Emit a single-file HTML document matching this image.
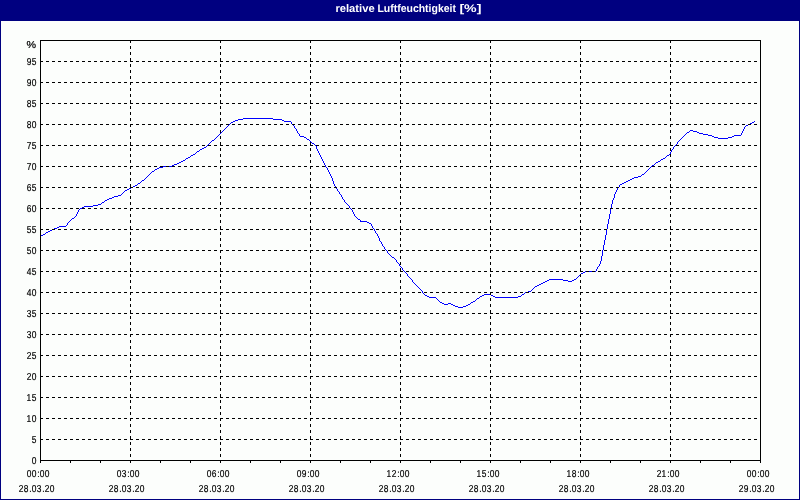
<!DOCTYPE html>
<html><head><meta charset="utf-8"><title>relative Luftfeuchtigkeit</title>
<style>
html,body{margin:0;padding:0;background:#000080;}
#c{position:relative;width:800px;height:500px;overflow:hidden;background:#000080;}
#plot{position:absolute;left:1px;top:21px;width:798px;height:478px;background:#fcfefc;}
svg{position:absolute;left:0;top:0;}
text{text-rendering:geometricPrecision;font-family:"Liberation Sans",Arial,sans-serif;font-size:10px;fill:#000;stroke:#000;stroke-width:0.2px;}
text.t{font-weight:bold;font-size:11px;fill:#fff;stroke:#fff;stroke-width:0px;}
</style></head><body><div id="c">
<div id="plot"></div>
<svg width="800" height="500" viewBox="0 0 800 500">
<text class="t" y="12"><tspan x="335.4" textLength="39.3" lengthAdjust="spacingAndGlyphs">relative</tspan> <tspan x="377.4" textLength="78.6" lengthAdjust="spacingAndGlyphs">Luftfeuchtigkeit</tspan> <tspan x="459.4" textLength="22" lengthAdjust="spacingAndGlyphs">[%]</tspan></text>
<path d="M243 118h30v1h-30zM238 119h5v1h-5zM273 119h9v1h-9zM235 120h3v1h-3zM282 120h2v1h-2zM233 121h2v1h-2zM284 121h7v1h-7zM754 121h1v1h-1zM231 122h2v1h-2zM291 122h1v1h-1zM752 122h2v1h-2zM230 123h1v1h-1zM291 123h1v1h-1zM750 123h2v1h-2zM229 124h1v1h-1zM292 124h1v1h-1zM748 124h2v1h-2zM228 125h1v1h-1zM293 125h1v1h-1zM746 125h2v1h-2zM227 126h1v1h-1zM294 126h1v1h-1zM745 126h1v1h-1zM226 127h1v1h-1zM294 127h1v1h-1zM744 127h1v1h-1zM225 128h1v1h-1zM295 128h1v1h-1zM744 128h1v1h-1zM224 129h1v1h-1zM296 129h1v1h-1zM743 129h1v1h-1zM223 130h1v1h-1zM296 130h1v1h-1zM690 130h3v1h-3zM743 130h1v1h-1zM222 131h1v1h-1zM297 131h1v1h-1zM689 131h1v1h-1zM693 131h4v1h-4zM742 131h1v1h-1zM221 132h1v1h-1zM297 132h1v1h-1zM687 132h2v1h-2zM697 132h2v1h-2zM742 132h1v1h-1zM220 133h1v1h-1zM298 133h1v1h-1zM686 133h1v1h-1zM699 133h4v1h-4zM741 133h1v1h-1zM219 134h1v1h-1zM299 134h1v1h-1zM685 134h1v1h-1zM703 134h5v1h-5zM741 134h1v1h-1zM218 135h1v1h-1zM299 135h1v1h-1zM684 135h1v1h-1zM708 135h4v1h-4zM734 135h7v1h-7zM217 136h1v1h-1zM300 136h4v1h-4zM683 136h1v1h-1zM712 136h2v1h-2zM732 136h2v1h-2zM216 137h1v1h-1zM304 137h2v1h-2zM682 137h1v1h-1zM714 137h4v1h-4zM728 137h4v1h-4zM215 138h1v1h-1zM306 138h1v1h-1zM681 138h1v1h-1zM718 138h10v1h-10zM214 139h1v1h-1zM307 139h2v1h-2zM680 139h1v1h-1zM212 140h2v1h-2zM309 140h1v1h-1zM679 140h1v1h-1zM211 141h1v1h-1zM310 141h1v1h-1zM678 141h1v1h-1zM210 142h1v1h-1zM311 142h1v1h-1zM677 142h1v1h-1zM209 143h1v1h-1zM312 143h2v1h-2zM677 143h1v1h-1zM208 144h1v1h-1zM314 144h1v1h-1zM676 144h1v1h-1zM207 145h1v1h-1zM315 145h1v1h-1zM675 145h1v1h-1zM206 146h1v1h-1zM316 146h1v1h-1zM674 146h1v1h-1zM204 147h2v1h-2zM316 147h1v1h-1zM673 147h1v1h-1zM202 148h2v1h-2zM316 148h1v1h-1zM673 148h1v1h-1zM200 149h2v1h-2zM317 149h1v1h-1zM672 149h1v1h-1zM199 150h1v1h-1zM317 150h1v1h-1zM671 150h1v1h-1zM197 151h2v1h-2zM318 151h1v1h-1zM671 151h1v1h-1zM196 152h1v1h-1zM318 152h1v1h-1zM670 152h1v1h-1zM195 153h1v1h-1zM319 153h1v1h-1zM670 153h1v1h-1zM193 154h2v1h-2zM319 154h1v1h-1zM669 154h1v1h-1zM191 155h2v1h-2zM320 155h1v1h-1zM667 155h2v1h-2zM190 156h1v1h-1zM320 156h1v1h-1zM666 156h1v1h-1zM188 157h2v1h-2zM321 157h1v1h-1zM665 157h1v1h-1zM186 158h2v1h-2zM321 158h1v1h-1zM663 158h2v1h-2zM185 159h1v1h-1zM322 159h1v1h-1zM661 159h2v1h-2zM183 160h2v1h-2zM322 160h1v1h-1zM660 160h1v1h-1zM181 161h2v1h-2zM323 161h1v1h-1zM658 161h2v1h-2zM179 162h2v1h-2zM323 162h1v1h-1zM656 162h2v1h-2zM177 163h2v1h-2zM324 163h1v1h-1zM655 163h1v1h-1zM174 164h3v1h-3zM324 164h1v1h-1zM654 164h1v1h-1zM172 165h2v1h-2zM325 165h1v1h-1zM652 165h2v1h-2zM163 166h9v1h-9zM325 166h1v1h-1zM651 166h1v1h-1zM159 167h4v1h-4zM326 167h1v1h-1zM650 167h1v1h-1zM157 168h2v1h-2zM327 168h1v1h-1zM649 168h1v1h-1zM155 169h2v1h-2zM327 169h1v1h-1zM648 169h1v1h-1zM154 170h1v1h-1zM328 170h1v1h-1zM647 170h1v1h-1zM152 171h2v1h-2zM328 171h1v1h-1zM646 171h1v1h-1zM151 172h1v1h-1zM329 172h1v1h-1zM645 172h1v1h-1zM150 173h1v1h-1zM329 173h1v1h-1zM644 173h1v1h-1zM149 174h1v1h-1zM330 174h1v1h-1zM642 174h2v1h-2zM148 175h1v1h-1zM330 175h1v1h-1zM641 175h1v1h-1zM147 176h1v1h-1zM331 176h1v1h-1zM638 176h3v1h-3zM146 177h1v1h-1zM331 177h1v1h-1zM634 177h4v1h-4zM145 178h1v1h-1zM332 178h1v1h-1zM632 178h2v1h-2zM144 179h1v1h-1zM332 179h1v1h-1zM630 179h2v1h-2zM142 180h2v1h-2zM332 180h1v1h-1zM628 180h2v1h-2zM141 181h1v1h-1zM333 181h1v1h-1zM626 181h2v1h-2zM140 182h1v1h-1zM333 182h1v1h-1zM624 182h2v1h-2zM138 183h2v1h-2zM333 183h1v1h-1zM622 183h2v1h-2zM137 184h1v1h-1zM334 184h1v1h-1zM620 184h2v1h-2zM135 185h2v1h-2zM334 185h1v1h-1zM619 185h1v1h-1zM133 186h2v1h-2zM335 186h1v1h-1zM619 186h1v1h-1zM131 187h2v1h-2zM335 187h1v1h-1zM618 187h1v1h-1zM129 188h2v1h-2zM336 188h1v1h-1zM617 188h1v1h-1zM127 189h2v1h-2zM337 189h1v1h-1zM617 189h1v1h-1zM125 190h2v1h-2zM337 190h1v1h-1zM616 190h1v1h-1zM124 191h1v1h-1zM338 191h1v1h-1zM616 191h1v1h-1zM123 192h1v1h-1zM339 192h1v1h-1zM615 192h1v1h-1zM122 193h1v1h-1zM339 193h1v1h-1zM615 193h1v1h-1zM121 194h1v1h-1zM340 194h1v1h-1zM614 194h1v1h-1zM118 195h3v1h-3zM341 195h1v1h-1zM614 195h1v1h-1zM114 196h4v1h-4zM341 196h1v1h-1zM614 196h1v1h-1zM112 197h2v1h-2zM342 197h1v1h-1zM614 197h1v1h-1zM109 198h3v1h-3zM342 198h1v1h-1zM613 198h1v1h-1zM107 199h2v1h-2zM343 199h1v1h-1zM613 199h1v1h-1zM105 200h2v1h-2zM344 200h1v1h-1zM612 200h1v1h-1zM104 201h1v1h-1zM344 201h1v1h-1zM612 201h1v1h-1zM102 202h2v1h-2zM345 202h1v1h-1zM612 202h1v1h-1zM101 203h1v1h-1zM346 203h1v1h-1zM612 203h1v1h-1zM98 204h3v1h-3zM347 204h1v1h-1zM611 204h1v1h-1zM93 205h5v1h-5zM348 205h1v1h-1zM611 205h1v1h-1zM84 206h9v1h-9zM349 206h1v1h-1zM611 206h1v1h-1zM82 207h2v1h-2zM349 207h1v1h-1zM611 207h1v1h-1zM80 208h2v1h-2zM350 208h1v1h-1zM611 208h1v1h-1zM79 209h1v1h-1zM351 209h1v1h-1zM610 209h1v1h-1zM78 210h1v1h-1zM352 210h1v1h-1zM610 210h1v1h-1zM78 211h1v1h-1zM352 211h1v1h-1zM610 211h1v1h-1zM77 212h1v1h-1zM353 212h1v1h-1zM610 212h1v1h-1zM77 213h1v1h-1zM353 213h1v1h-1zM610 213h1v1h-1zM76 214h1v1h-1zM354 214h1v1h-1zM609 214h1v1h-1zM76 215h1v1h-1zM354 215h1v1h-1zM609 215h1v1h-1zM75 216h1v1h-1zM355 216h1v1h-1zM609 216h1v1h-1zM74 217h1v1h-1zM356 217h1v1h-1zM609 217h1v1h-1zM72 218h2v1h-2zM357 218h1v1h-1zM609 218h1v1h-1zM71 219h1v1h-1zM358 219h2v1h-2zM608 219h1v1h-1zM70 220h1v1h-1zM360 220h1v1h-1zM608 220h1v1h-1zM69 221h1v1h-1zM360 221h7v1h-7zM608 221h1v1h-1zM68 222h1v1h-1zM367 222h2v1h-2zM608 222h1v1h-1zM67 223h1v1h-1zM369 223h2v1h-2zM608 223h1v1h-1zM67 224h1v1h-1zM371 224h1v1h-1zM607 224h1v1h-1zM66 225h1v1h-1zM371 225h1v1h-1zM607 225h1v1h-1zM59 226h7v1h-7zM372 226h1v1h-1zM607 226h1v1h-1zM57 227h2v1h-2zM372 227h1v1h-1zM607 227h1v1h-1zM54 228h3v1h-3zM373 228h1v1h-1zM607 228h1v1h-1zM52 229h2v1h-2zM374 229h1v1h-1zM606 229h1v1h-1zM50 230h2v1h-2zM374 230h1v1h-1zM606 230h1v1h-1zM48 231h2v1h-2zM375 231h1v1h-1zM606 231h1v1h-1zM46 232h2v1h-2zM375 232h1v1h-1zM606 232h1v1h-1zM45 233h1v1h-1zM376 233h1v1h-1zM606 233h1v1h-1zM43 234h2v1h-2zM377 234h1v1h-1zM606 234h1v1h-1zM41 235h2v1h-2zM377 235h1v1h-1zM605 235h1v1h-1zM378 236h1v1h-1zM605 236h1v1h-1zM378 237h1v1h-1zM605 237h1v1h-1zM379 238h1v1h-1zM605 238h1v1h-1zM379 239h1v1h-1zM605 239h1v1h-1zM379 240h1v1h-1zM604 240h1v1h-1zM380 241h1v1h-1zM604 241h1v1h-1zM381 242h1v1h-1zM604 242h1v1h-1zM381 243h1v1h-1zM604 243h1v1h-1zM382 244h1v1h-1zM604 244h1v1h-1zM382 245h1v1h-1zM603 245h1v1h-1zM383 246h1v1h-1zM603 246h1v1h-1zM384 247h1v1h-1zM603 247h1v1h-1zM384 248h1v1h-1zM603 248h1v1h-1zM385 249h1v1h-1zM603 249h1v1h-1zM386 250h1v1h-1zM602 250h1v1h-1zM387 251h1v1h-1zM602 251h1v1h-1zM387 252h1v1h-1zM602 252h1v1h-1zM388 253h1v1h-1zM602 253h1v1h-1zM389 254h1v1h-1zM602 254h1v1h-1zM390 255h1v1h-1zM602 255h1v1h-1zM391 256h1v1h-1zM601 256h1v1h-1zM392 257h2v1h-2zM601 257h1v1h-1zM394 258h1v1h-1zM601 258h1v1h-1zM395 259h1v1h-1zM601 259h1v1h-1zM396 260h1v1h-1zM601 260h1v1h-1zM396 261h1v1h-1zM600 261h1v1h-1zM397 262h1v1h-1zM600 262h1v1h-1zM398 263h1v1h-1zM600 263h1v1h-1zM399 264h1v1h-1zM599 264h1v1h-1zM399 265h1v1h-1zM599 265h1v1h-1zM400 266h1v1h-1zM598 266h1v1h-1zM401 267h1v1h-1zM597 267h1v1h-1zM402 268h1v1h-1zM597 268h1v1h-1zM402 269h1v1h-1zM596 269h1v1h-1zM403 270h1v1h-1zM596 270h1v1h-1zM404 271h1v1h-1zM585 271h11v1h-11zM405 272h1v1h-1zM583 272h2v1h-2zM406 273h1v1h-1zM581 273h2v1h-2zM407 274h1v1h-1zM580 274h1v1h-1zM407 275h1v1h-1zM579 275h1v1h-1zM408 276h1v1h-1zM578 276h1v1h-1zM409 277h1v1h-1zM577 277h1v1h-1zM410 278h1v1h-1zM576 278h1v1h-1zM411 279h1v1h-1zM549 279h14v1h-14zM574 279h2v1h-2zM412 280h1v1h-1zM547 280h2v1h-2zM563 280h5v1h-5zM572 280h2v1h-2zM412 281h1v1h-1zM545 281h2v1h-2zM568 281h4v1h-4zM413 282h1v1h-1zM543 282h2v1h-2zM414 283h1v1h-1zM541 283h2v1h-2zM415 284h1v1h-1zM539 284h2v1h-2zM416 285h1v1h-1zM537 285h2v1h-2zM417 286h1v1h-1zM535 286h2v1h-2zM418 287h1v1h-1zM534 287h1v1h-1zM419 288h1v1h-1zM533 288h1v1h-1zM420 289h1v1h-1zM532 289h1v1h-1zM421 290h1v1h-1zM531 290h1v1h-1zM422 291h1v1h-1zM528 291h3v1h-3zM422 292h1v1h-1zM525 292h3v1h-3zM423 293h1v1h-1zM524 293h1v1h-1zM424 294h1v1h-1zM484 294h7v1h-7zM522 294h2v1h-2zM425 295h2v1h-2zM482 295h2v1h-2zM491 295h2v1h-2zM521 295h1v1h-1zM427 296h2v1h-2zM480 296h2v1h-2zM493 296h2v1h-2zM518 296h3v1h-3zM429 297h7v1h-7zM479 297h1v1h-1zM495 297h23v1h-23zM436 298h1v1h-1zM477 298h2v1h-2zM437 299h1v1h-1zM476 299h1v1h-1zM438 300h1v1h-1zM475 300h1v1h-1zM439 301h1v1h-1zM473 301h2v1h-2zM440 302h2v1h-2zM471 302h2v1h-2zM442 303h2v1h-2zM448 303h3v1h-3zM470 303h1v1h-1zM444 304h4v1h-4zM451 304h2v1h-2zM468 304h2v1h-2zM453 305h2v1h-2zM466 305h2v1h-2zM455 306h3v1h-3zM463 306h3v1h-3zM458 307h5v1h-5z" fill="#00f" shape-rendering="crispEdges"/>
<g shape-rendering="crispEdges" stroke="#000" stroke-width="1" fill="none">
<line x1="40" y1="61.5" x2="760" y2="61.5" stroke-dasharray="3 3"/>
<line x1="40" y1="82.5" x2="760" y2="82.5" stroke-dasharray="3 3"/>
<line x1="40" y1="103.5" x2="760" y2="103.5" stroke-dasharray="3 3"/>
<line x1="40" y1="124.5" x2="760" y2="124.5" stroke-dasharray="3 3"/>
<line x1="40" y1="145.5" x2="760" y2="145.5" stroke-dasharray="3 3"/>
<line x1="40" y1="166.5" x2="760" y2="166.5" stroke-dasharray="3 3"/>
<line x1="40" y1="187.5" x2="760" y2="187.5" stroke-dasharray="3 3"/>
<line x1="40" y1="208.5" x2="760" y2="208.5" stroke-dasharray="3 3"/>
<line x1="40" y1="229.5" x2="760" y2="229.5" stroke-dasharray="3 3"/>
<line x1="40" y1="250.5" x2="760" y2="250.5" stroke-dasharray="3 3"/>
<line x1="40" y1="271.5" x2="760" y2="271.5" stroke-dasharray="3 3"/>
<line x1="40" y1="292.5" x2="760" y2="292.5" stroke-dasharray="3 3"/>
<line x1="40" y1="313.5" x2="760" y2="313.5" stroke-dasharray="3 3"/>
<line x1="40" y1="334.5" x2="760" y2="334.5" stroke-dasharray="3 3"/>
<line x1="40" y1="355.5" x2="760" y2="355.5" stroke-dasharray="3 3"/>
<line x1="40" y1="376.5" x2="760" y2="376.5" stroke-dasharray="3 3"/>
<line x1="40" y1="397.5" x2="760" y2="397.5" stroke-dasharray="3 3"/>
<line x1="40" y1="418.5" x2="760" y2="418.5" stroke-dasharray="3 3"/>
<line x1="40" y1="439.5" x2="760" y2="439.5" stroke-dasharray="3 3"/>
<line x1="130.5" y1="40" x2="130.5" y2="463" stroke-dasharray="3 3"/>
<line x1="220.5" y1="40" x2="220.5" y2="463" stroke-dasharray="3 3"/>
<line x1="310.5" y1="40" x2="310.5" y2="463" stroke-dasharray="3 3"/>
<line x1="400.5" y1="40" x2="400.5" y2="463" stroke-dasharray="3 3"/>
<line x1="490.5" y1="40" x2="490.5" y2="463" stroke-dasharray="3 3"/>
<line x1="580.5" y1="40" x2="580.5" y2="463" stroke-dasharray="3 3"/>
<line x1="670.5" y1="40" x2="670.5" y2="463" stroke-dasharray="3 3"/>
<path d="M40.5 463V40.5H760.5V463M40 460.5H761"/>
<path d="M40.5 461V463M70.5 461V463M100.5 461V463M130.5 461V463M160.5 461V463M190.5 461V463M220.5 461V463M250.5 461V463M280.5 461V463M310.5 461V463M340.5 461V463M370.5 461V463M400.5 461V463M430.5 461V463M460.5 461V463M490.5 461V463M520.5 461V463M550.5 461V463M580.5 461V463M610.5 461V463M640.5 461V463M670.5 461V463M700.5 461V463M730.5 461V463M760.5 461V463"/>
</g>
<text transform="scale(0.84,1)" x="37.70" y="464">0</text>
<text transform="scale(0.84,1)" x="37.71" y="443">5</text>
<text transform="scale(0.84,1)" x="31.61 37.70" y="422">10</text>
<text transform="scale(0.84,1)" x="31.61 37.71" y="401">15</text>
<text transform="scale(0.84,1)" x="31.74 37.70" y="380">20</text>
<text transform="scale(0.84,1)" x="31.74 37.71" y="359">25</text>
<text transform="scale(0.84,1)" x="31.77 37.70" y="338">30</text>
<text transform="scale(0.84,1)" x="31.77 37.71" y="317">35</text>
<text transform="scale(0.84,1)" x="31.77 37.70" y="296">40</text>
<text transform="scale(0.84,1)" x="31.77 37.71" y="275">45</text>
<text transform="scale(0.84,1)" x="31.75 37.70" y="254">50</text>
<text transform="scale(0.84,1)" x="31.75 37.71" y="233">55</text>
<text transform="scale(0.84,1)" x="31.71 37.70" y="212">60</text>
<text transform="scale(0.84,1)" x="31.71 37.71" y="191">65</text>
<text transform="scale(0.84,1)" x="31.74 37.70" y="170">70</text>
<text transform="scale(0.84,1)" x="31.74 37.71" y="149">75</text>
<text transform="scale(0.84,1)" x="31.74 37.70" y="128">80</text>
<text transform="scale(0.84,1)" x="31.74 37.71" y="107">85</text>
<text transform="scale(0.84,1)" x="31.75 37.70" y="86">90</text>
<text transform="scale(0.84,1)" x="31.75 37.71" y="65">95</text>
<text text-anchor="end" x="36" y="48" textLength="9.6" lengthAdjust="spacingAndGlyphs">%</text>
<text transform="scale(0.84,1)" x="31.74 37.70 44.44 47.22 53.17" y="477">00:00</text><text transform="scale(0.84,1)" x="22.22 28.17 34.92 37.70 43.68 50.40 53.17 59.12" y="492">28.03.20</text>
<text transform="scale(0.84,1)" x="138.89 144.87 151.59 154.36 160.31" y="477">03:00</text><text transform="scale(0.84,1)" x="129.36 135.31 142.06 144.84 150.82 157.54 160.31 166.27" y="492">28.03.20</text>
<text transform="scale(0.84,1)" x="246.03 251.95 258.73 261.50 267.46" y="477">06:00</text><text transform="scale(0.84,1)" x="236.50 242.46 249.21 251.98 257.96 264.68 267.46 273.41" y="492">28.03.20</text>
<text transform="scale(0.84,1)" x="353.17 359.13 365.87 368.65 374.60" y="477">09:00</text><text transform="scale(0.84,1)" x="343.65 349.60 356.35 359.12 365.11 371.83 374.60 380.55" y="492">28.03.20</text>
<text transform="scale(0.84,1)" x="460.18 466.27 473.02 475.79 481.74" y="477">12:00</text><text transform="scale(0.84,1)" x="450.79 456.74 463.49 466.27 472.25 478.97 481.74 487.70" y="492">28.03.20</text>
<text transform="scale(0.84,1)" x="567.32 573.42 580.16 582.93 588.89" y="477">15:00</text><text transform="scale(0.84,1)" x="557.93 563.89 570.63 573.41 579.39 586.11 588.89 594.84" y="492">28.03.20</text>
<text transform="scale(0.84,1)" x="674.46 680.55 687.30 690.08 696.03" y="477">18:00</text><text transform="scale(0.84,1)" x="665.08 671.03 677.78 680.55 686.53 693.25 696.03 701.98" y="492">28.03.20</text>
<text transform="scale(0.84,1)" x="781.74 787.56 794.44 797.22 803.17" y="477">21:00</text><text transform="scale(0.84,1)" x="772.22 778.17 784.92 787.70 793.68 800.40 803.17 809.12" y="492">28.03.20</text>
<text transform="scale(0.84,1)" x="888.89 894.84 901.59 904.36 910.31" y="477">00:00</text><text transform="scale(0.84,1)" x="879.36 885.32 892.06 894.84 900.82 907.54 910.31 916.27" y="492">29.03.20</text>
</svg></div></body></html>
